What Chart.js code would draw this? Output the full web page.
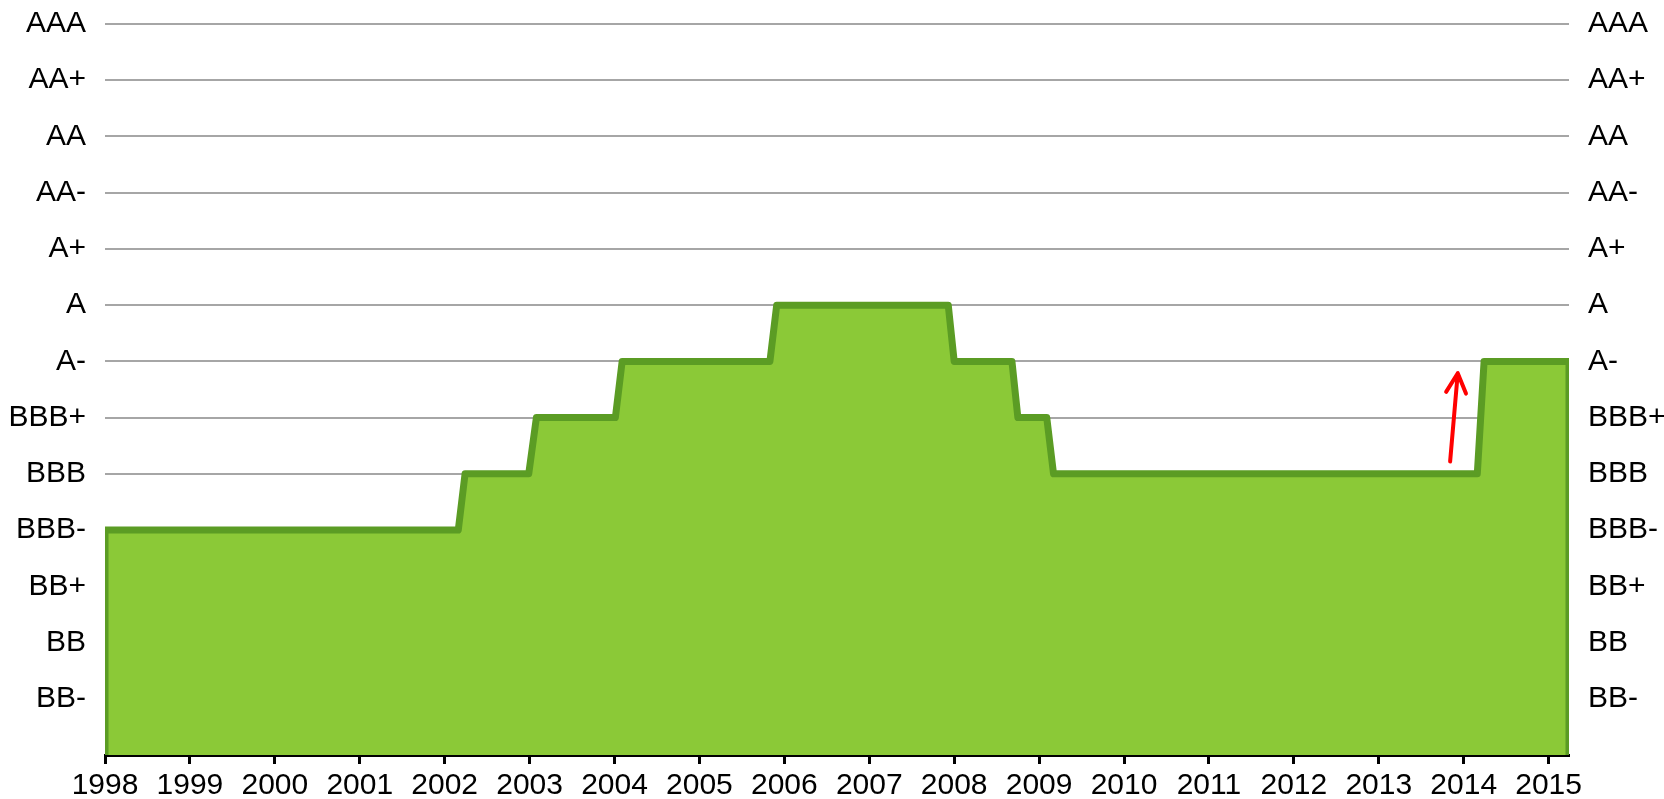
<!DOCTYPE html>
<html>
<head>
<meta charset="utf-8">
<script src="https://cdn.jsdelivr.net/npm/chart.js@4/dist/chart.umd.min.js"></script>
<style>
  html, body { margin: 0; padding: 0; background: #fff; }
  canvas { display: block; }
</style>
</head>
<body>
<canvas id="ratingChart" width="1664" height="799"></canvas>
<script>
// rating scale, index 0 is the floor of the chart (not labelled)
const ratingLabels = ["", "BB-", "BB", "BB+", "BBB-", "BBB", "BBB+", "A-", "A", "A+", "AA-", "AA", "AA+", "AAA"];
const yearTicks = [1998, 1999, 2000, 2001, 2002, 2003, 2004, 2005, 2006, 2007, 2008, 2009, 2010, 2011, 2012, 2013, 2014, 2015];

// rating history: x = year, y = index into ratingLabels
const pointYears = [1998, 1998, 2002.16, 2002.24, 2002.99, 2003.08, 2004.01, 2004.09, 2005.83, 2005.91, 2007.93, 2008.0, 2008.68, 2008.75, 2009.09, 2009.17, 2014.16, 2014.24, 2015.24, 2015.24];
const pointRatings = [0, 4, 4, 5, 5, 6, 6, 7, 7, 8, 8, 7, 7, 6, 6, 5, 5, 7, 7, 0];

// red arrow (upgrade hint)
const arrowTail = { x: 2013.84, y: 5.22 };
const arrowTip = { x: 2013.93, y: 6.79 };

const font = { family: "'Liberation Sans', Arial, sans-serif", size: 30 };

const arrowPlugin = {
  id: "arrow",
  afterDatasetsDraw(chart) {
    const c = chart.ctx;
    const xs = chart.scales.x, ys = chart.scales.y;
    const x1 = xs.getPixelForValue(arrowTail.x), y1 = ys.getPixelForValue(arrowTail.y);
    const x2 = xs.getPixelForValue(arrowTip.x), y2 = ys.getPixelForValue(arrowTip.y);
    const ang = Math.atan2(y1 - y2, x1 - x2);
    const len = 22, spread = 0.47;
    c.save();
    c.strokeStyle = "#ff0000";
    c.lineWidth = 4;
    c.lineCap = "round";
    c.lineJoin = "round";
    c.beginPath();
    c.moveTo(x1, y1);
    c.lineTo(x2, y2);
    c.moveTo(x2 + len * Math.cos(ang - spread), y2 + len * Math.sin(ang - spread));
    c.lineTo(x2, y2);
    c.lineTo(x2 + len * Math.cos(ang + spread), y2 + len * Math.sin(ang + spread));
    c.stroke();
    c.restore();
  }
};

// vertical axes: keep the label gap but not the extra top/bottom padding
function fitRatingAxis(width) {
  return (s) => {
    s.width = width;
    s.paddingTop = 24;
    s.paddingBottom = 0;
  };
}

const ctx = document.getElementById("ratingChart").getContext("2d");

new Chart(ctx, {
  type: "line",
  data: {
    datasets: [{
      data: pointYears.map((yr, i) => ({ x: yr, y: pointRatings[i] })),
      borderColor: "#5b9c24",
      backgroundColor: "#8bc937",
      borderWidth: 7,
      borderJoinStyle: "round",
      borderCapStyle: "round",
      fill: "origin",
      pointRadius: 0,
      tension: 0,
      clip: 0
    }]
  },
  options: {
    responsive: false,
    animation: false,
    layout: { padding: 0 },
    plugins: { legend: { display: false }, tooltip: { enabled: false } },
    scales: {
      x: {
        type: "linear",
        min: 1998,
        max: 2015.24,
        afterBuildTicks: (s) => { s.ticks = yearTicks.map(v => ({ value: v })); },
        afterFit: (s) => { s.height = 44; },
        ticks: {
          font: font,
          color: "#000",
          padding: 4,
          maxRotation: 0,
          autoSkip: false,
          callback: (v) => String(v)
        },
        grid: {
          drawOnChartArea: false,
          drawTicks: true,
          tickLength: 9,
          tickWidth: 3,
          tickColor: "#000"
        },
        border: { display: true, color: "#000", width: 3 }
      },
      y: {
        position: "left",
        min: 0,
        max: 13,
        afterBuildTicks: (s) => { s.ticks = ratingLabels.map((_, i) => ({ value: i })); },
        afterFit: fitRatingAxis(105),
        ticks: {
          font: font,
          color: "#000",
          padding: 19,
          autoSkip: false,
          callback: (v) => ratingLabels[v]
        },
        grid: { color: "#a6a6a6", lineWidth: 2, drawTicks: false },
        border: { display: false }
      },
      y2: {
        position: "right",
        min: 0,
        max: 13,
        afterBuildTicks: (s) => { s.ticks = ratingLabels.map((_, i) => ({ value: i })); },
        afterFit: fitRatingAxis(95),
        ticks: {
          font: font,
          color: "#000",
          padding: 19,
          autoSkip: false,
          callback: (v) => ratingLabels[v]
        },
        grid: { display: false, drawTicks: false },
        border: { display: false }
      }
    }
  },
  plugins: [arrowPlugin]
});
</script>
</body>
</html>
